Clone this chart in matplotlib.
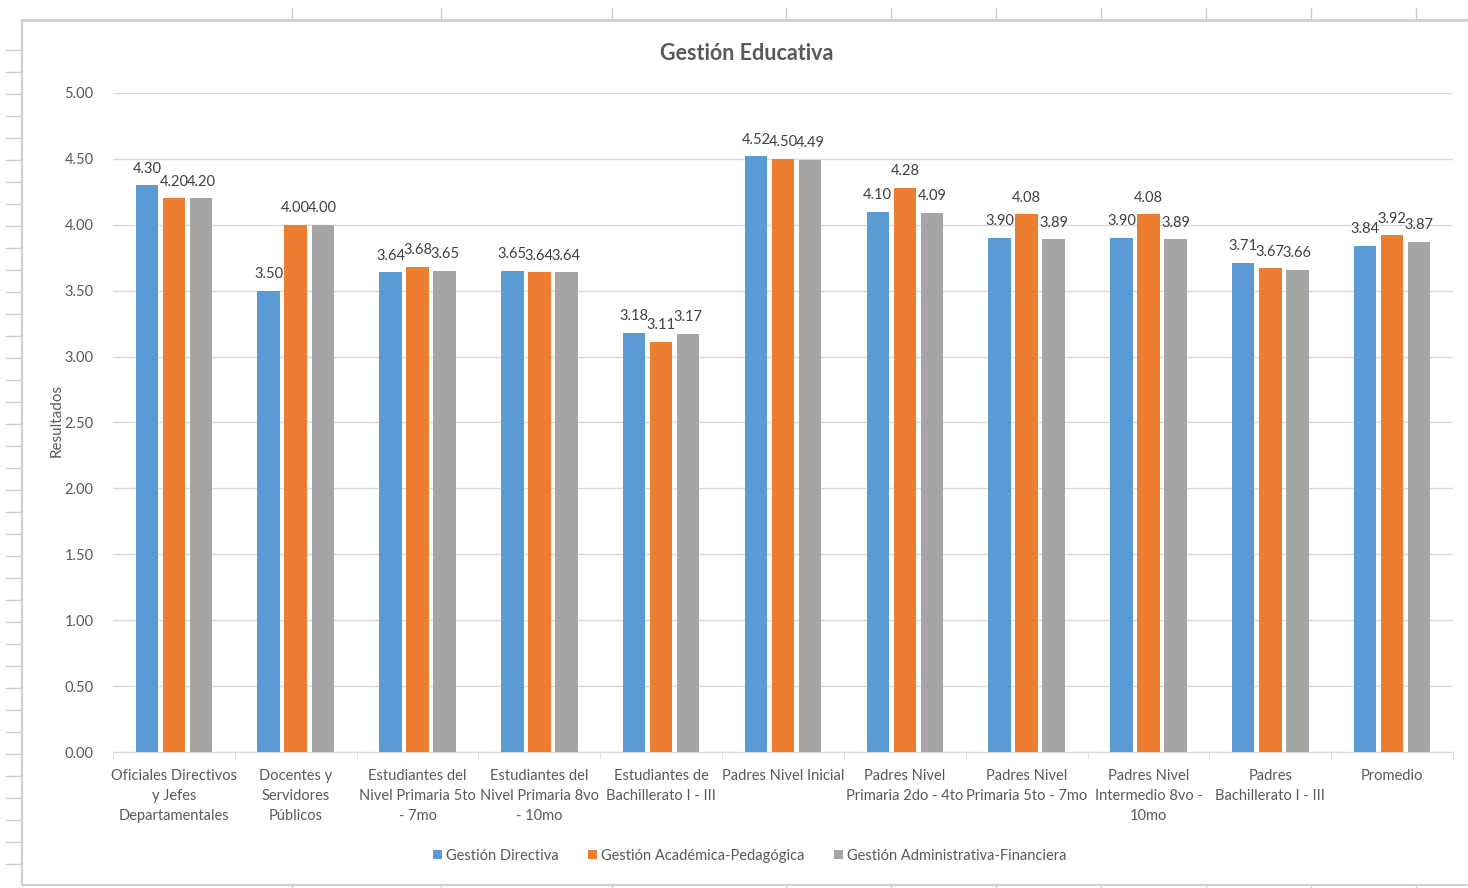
import matplotlib
matplotlib.use("Agg")
from matplotlib import pyplot as plt
from matplotlib.lines import Line2D
import numpy as np

plt.rcParams['font.family'] = ['Lato', 'DejaVu Sans']

categories = [
    "Oficiales Directivos\ny Jefes\nDepartamentales",
    "Docentes y\nServidores\nPúblicos",
    "Estudiantes del\nNivel Primaria 5to\n- 7mo",
    "Estudiantes del\nNivel Primaria 8vo\n- 10mo",
    "Estudiantes de\nBachillerato I - III",
    "Padres Nivel Inicial",
    "Padres Nivel\nPrimaria 2do - 4to",
    "Padres Nivel\nPrimaria 5to - 7mo",
    "Padres Nivel\nIntermedio 8vo -\n10mo",
    "Padres\nBachillerato I - III",
    "Promedio",
]
series_names = ["Gestión Directiva", "Gestión Académica-Pedagógica",
                "Gestión Administrativa-Financiera"]
directiva = [4.30, 3.50, 3.64, 3.65, 3.18, 4.52, 4.10, 3.90, 3.90, 3.71, 3.84]
academica = [4.20, 4.00, 3.68, 3.64, 3.11, 4.50, 4.28, 4.08, 4.08, 3.67, 3.92]
administrativa = [4.20, 4.00, 3.65, 3.64, 3.17, 4.49, 4.09, 3.89, 3.89, 3.66, 3.87]
yticks = [0, 0.5, 1.0, 1.5, 2.0, 2.5, 3.0, 3.5, 4.0, 4.5, 5.0]

colors = ["#5B9BD5", "#ED7D31", "#A5A5A5"]
text_col = "#595959"
grid_col = "#D9D9D9"

W, H = 1468, 888
fig = plt.figure(figsize=(W / 100, H / 100), dpi=100)
ax = fig.add_axes([113 / W, 1 - 752 / H, (1453 - 113) / W, (752 - 93) / H])

x = np.arange(len(categories))
width = 0.185
offset = 0.222
for i, (vals, name) in enumerate(zip([directiva, academica, administrativa], series_names)):
    pos = x + (i - 1) * offset
    bars = ax.bar(pos, vals, width=width, color=colors[i], label=name, zorder=3)
    for b, v in zip(bars, vals):
        ax.annotate(f"{v:.2f}", (b.get_x() + b.get_width() / 2, v),
                    xytext=(0, 7), textcoords="offset points",
                    ha="center", va="bottom", fontsize=10.5, color="#404040")

ax.set_xlim(-0.5, len(categories) - 0.5)
ax.set_ylim(0, 5)
ax.set_yticks(yticks)
ax.set_yticklabels([f"{t:.2f}" for t in yticks], fontsize=10.5, color=text_col)
ax.yaxis.grid(True, color=grid_col, linewidth=1, zorder=0)
ax.tick_params(axis="y", length=0, pad=14)

ax.set_xticks(x)
ax.set_xticklabels(categories, fontsize=10.5, color=text_col, linespacing=1.55)
ax.tick_params(axis="x", length=0, pad=12)
ax.set_xticks(np.arange(len(categories) + 1) - 0.5, minor=True)
ax.tick_params(axis="x", which="minor", length=5, color=grid_col, direction="out")

for s in ["top", "right", "left"]:
    ax.spines[s].set_visible(False)
ax.spines["bottom"].set_color(grid_col)

ax.set_ylabel("Resultados", fontsize=11, color=text_col)
ax.yaxis.set_label_coords((64 - 113) / (1453 - 113), (752 - 420) / (752 - 93))

fig.text(747 / W, 1 - 54 / H, "Gestión Educativa", ha="center", va="center",
         fontsize=15.5, fontweight="bold", color=text_col)

fig.legend(loc="center", bbox_to_anchor=(750 / W, 1 - 856 / H), ncol=3,
           frameon=False, handlelength=0.6, handleheight=0.6, handletextpad=0.3,
           columnspacing=2.0, prop={"size": 10.5}, labelcolor=text_col)

# spreadsheet frame around the chart
frame_col = "#CFCFCF"
def fl(x0, y0, x1, y1, lw=1.2):
    fig.add_artist(Line2D([x0 / W, x1 / W], [1 - y0 / H, 1 - y1 / H],
                          color=frame_col, linewidth=lw, transform=fig.transFigure))

fl(22, 20, W, 20, 2)
fl(22, 20, 22, 885, 1.5)
fl(22, 885, W, 885, 1.5)
for tx in [292, 441, 612, 786, 891, 996, 1101, 1206, 1311, 1416]:
    fl(tx, 8, tx, 20, 1)
    fl(tx, 885, tx, 888, 1)
for ty in range(50, 880, 22):
    fl(6, ty, 22, ty, 1)

fig.savefig("out.png", dpi=100, facecolor="white")
